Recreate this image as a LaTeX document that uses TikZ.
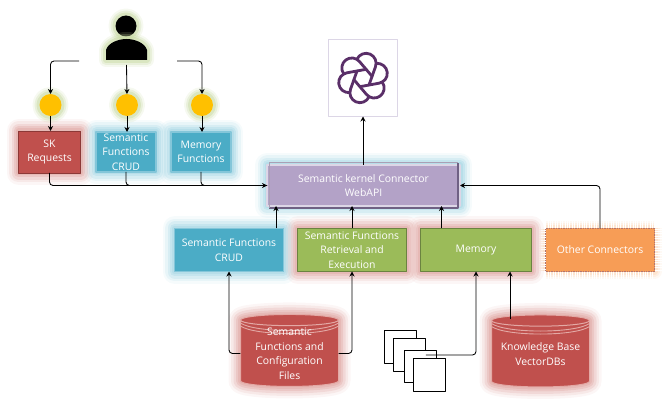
\documentclass[tikz,border=0pt]{standalone}
\usepackage{fontspec}
\setmainfont{Open Sans}
\usepackage{xcolor}
\usetikzlibrary{arrows.meta,positioning,shapes.geometric}
\definecolor{RedBox}     {HTML}{C0504D}
\definecolor{RedEdge}    {HTML}{8C3836}
\definecolor{RedGlow}    {HTML}{E0A8A4}
\definecolor{RedRing}    {HTML}{E3A9A5}
\definecolor{BlueBox}    {HTML}{4BACC6}
\definecolor{BlueEdge}   {HTML}{84C6D9}
\definecolor{BlueGlow}   {HTML}{A5D6E4}
\definecolor{GreenBox}   {HTML}{9BBB59}
\definecolor{GreenEdge}  {HTML}{6B8340}
\definecolor{GreenGlow}  {HTML}{C3D69B}
\definecolor{OrangeBox}  {HTML}{F79D56}
\definecolor{OrangeGlow} {HTML}{FBD5B5}
\definecolor{PurpleBox}  {HTML}{B3A2C7}
\definecolor{PurpleDark} {HTML}{6F6184}
\definecolor{PurpleLine} {HTML}{DCD6E6}
\definecolor{LogoInk}    {HTML}{5A2F68}
\definecolor{SunDot}     {HTML}{FFC000}

\begin{document}
\begin{tikzpicture}[x=1pt,y=-1pt,line join=round,
  glow/.style={preaction={draw=#1,line width=24pt,opacity=.1},
               preaction={draw=#1,line width=19pt,opacity=.17},
               preaction={draw=#1,line width=14pt,opacity=.25},
               preaction={draw=#1,line width=9pt,opacity=.35},
               preaction={draw=#1,line width=5pt,opacity=.45}},
  smallglow/.style={preaction={draw=#1,line width=14pt,opacity=.15},
               preaction={draw=#1,line width=10pt,opacity=.25},
               preaction={draw=#1,line width=6pt,opacity=.4}},
  box/.style={rectangle,outer sep=0pt,inner sep=0pt,text=white,align=center,
              font=\fontsize{10.4}{14.5}\selectfont},
  reqbox/.style={box,fill=RedBox,draw=RedEdge,line width=.7pt,glow=RedGlow,
              minimum width=62pt,minimum height=42pt},
  funcbox/.style={box,fill=BlueBox,draw=BlueEdge,line width=1.6pt,glow=BlueGlow,
              minimum width=60pt,minimum height=40pt},
  lowbox/.style={box,draw=GreenEdge,fill=GreenBox,line width=.7pt,
              minimum width=109pt,minimum height=43pt},
  store/.style={cylinder,shape border rotate=90,aspect=.16,outer sep=0pt,inner sep=0pt,
              fill=RedBox,draw=RedRing,line width=1pt,glow=RedGlow,
              minimum width=98pt,minimum height=72pt},
  dot/.style={circle,fill=SunDot,minimum size=22pt,inner sep=0pt,outer sep=0pt,smallglow=GreenGlow},
  sheet/.style={rectangle,fill=white,draw=black,line width=.8pt,minimum width=32.5pt,
              minimum height=32.5pt,inner sep=0pt,outer sep=0pt},
  ring/.style={draw=RedRing,line width=.9pt},
  arr/.style={-{Stealth[length=5pt,width=5pt]},color=black,line width=.85pt,rounded corners=3.5pt}
]
  \useasboundingbox (0,0) rectangle (670,409);

  % user on top
  \node[circle,fill=black,minimum size=21pt,inner sep=0pt,smallglow=GreenGlow] (head) at (126,26) {};
  \fill[black,smallglow=GreenGlow]
    (106,60) -- (106,50) .. controls (108,43) and (118,39) .. (126.5,39)
    .. controls (135,39) and (145,43) .. (147,50) -- (147,60) -- cycle;
  \coordinate (userL) at (79,61);
  \coordinate (userM) at (126.5,65);
  \coordinate (userR) at (177,61);

  % left column
  \node[reqbox] (skreq) at (49.5,152) {SK\\Requests};
  \node[funcbox, right=15.5pt of skreq] (topcrud) {Semantic\\Functions\\CRUD};
  \node[funcbox, right=15pt of topcrud] (memfunc) {Memory\\Functions};

  \node[dot, above=15pt of skreq,   xshift=1pt]   (dotA) {};
  \node[dot, above=16pt of topcrud, xshift=1pt]   (dotB) {};
  \node[dot, above=16pt of memfunc, xshift=1pt]   (dotC) {};

  % connector
  \node[box,fill=PurpleBox,draw=PurpleLine,line width=2pt,glow=BlueGlow,
        minimum width=193pt,minimum height=41pt] (api) at (363.5,185.5)
        {Semantic kernel Connector\\WebAPI};
  \draw[PurpleDark,line width=1.8pt] ([shift={(2.2,2.2)}]api.south west) -- ([shift={(-2.2,2.2)}]api.south east)
        -- ([shift={(-2.2,-2.2)}]api.north east);
  \draw[PurpleDark!60,line width=1pt] ([shift={(2,2)}]api.south west) -- ([shift={(2,-2)}]api.north west)
        -- ([shift={(-2,-2)}]api.north east);

  \node[rectangle,fill=white,draw=PurpleLine,line width=1.8pt,minimum width=69pt,
        minimum height=77pt,inner sep=0pt,outer sep=0pt] (gpt) at (363,78) {};
  \foreach \a in {0,60,...,300}
    \draw[LogoInk,line width=2.8pt,line cap=round,shift={(gpt.center)},x=1pt,y=1pt,rotate=\a-12]
      (-9.8,17.1) arc[start angle=168,end angle=-8,radius=10] -- (7.3,-5.7);

  % lower row
  \node[lowbox,fill=BlueBox,draw=BlueEdge,line width=1.6pt,glow=BlueGlow] (lowcrud) at (229,250)
        {Semantic Functions\\CRUD};
  \node[lowbox,glow=RedGlow, right=14pt of lowcrud] (retrieve)
        {Semantic Functions\\Retrieval and\\Execution};
  \node[lowbox,glow=RedGlow, right=14pt of retrieve, minimum width=111pt] (memory) {Memory};
  \node[lowbox,fill=OrangeBox,draw=RedEdge!70,densely dotted,smallglow=OrangeGlow,
        right=14pt of memory] (other) {Other Connectors};

  % stores
  \node[store] (semfiles) at (289.5,353.5) {\phantom{\rule{70pt}{45pt}}};
  \node[store] (kbase) at (540.5,354) {\phantom{\rule{70pt}{45pt}}};
  \foreach \o in {3,6} {
    \draw[ring] ([yshift=-\o pt]semfiles.west |- semfiles.before top) .. controls +(15,10) and +(-15,10) .. ([yshift=-\o pt]semfiles.east |- semfiles.before top);
    \draw[ring] ([yshift=-\o pt]kbase.west |- kbase.before top) .. controls +(15,10) and +(-15,10) .. ([yshift=-\o pt]kbase.east |- kbase.before top);
  }
  \node[box] (semtext) at (semfiles) {Semantic\\Functions and\\Configuration\\Files};
  \node[box] (kbtext) at (kbase) {Knowledge Base\\VectorDBs};
  \coordinate (kbtop) at (510,318.5);

  % documents
  \node[sheet] (docA) at (400.5,347) {};
  \node[sheet,below right=-24.5pt and -23.5pt of docA] (docB) {};
  \node[sheet,below right=-21pt and -21.5pt of docB] (docC) {};
  \node[sheet,below right=-24pt and -23.5pt of docC] (docD) {};

  % arrows
  \draw[arr] (userL) -| (dotA.north);
  \draw[arr] (userM) -- (dotB.north);
  \draw[arr] (userR) -| (dotC.north);
  \draw[arr] (dotA) -- (dotA |- skreq.north);
  \draw[arr] (dotB) -- (dotB |- topcrud.north);
  \draw[arr] (dotC) -- (dotC |- memfunc.north);
  \draw[arr] (skreq.south) |- (api.west);
  \draw[rounded corners=3.5pt,line width=.85pt] (topcrud.south) |- (api.west);
  \draw[rounded corners=3.5pt,line width=.85pt] (memfunc.south) |- (api.west);
  \draw[arr] (api.north -| gpt.south) -- (gpt.south);
  \draw[arr] ([xshift=47pt]lowcrud.north) -- ([xshift=47pt]lowcrud.north |- api.south);
  \draw[arr] (retrieve.north) -- (retrieve.north |- api.south);
  \draw[arr] ([xshift=-34.5pt]memory.north) -- ([xshift=-34.5pt]memory.north |- api.south);
  \draw[arr] (other.north) |- (api.east);
  \draw[arr] (semfiles.west) -| (lowcrud.south);
  \draw[arr] (semfiles.east) -| (retrieve.south);
  \draw[arr] (docB.east) -| (memory.south);
  \draw[arr] (kbtop) -- (kbtop |- memory.south);
\end{tikzpicture}
\end{document}
